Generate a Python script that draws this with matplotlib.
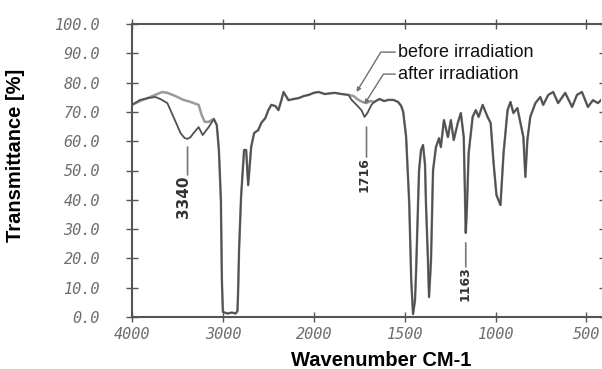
import numpy as np
import matplotlib
matplotlib.use("Agg")
import matplotlib.pyplot as plt

# spectrum: wavenumber (cm-1) and transmittance (%)
before_wn = [4000, 3911, 3800, 3667, 3611, 3522, 3433, 3356, 3267, 3233, 3200, 3156, 3100,
             3067, 3044, 3022, 3011, 3000, 2950, 2900, 2860, 2840, 2833, 2822, 2800, 2767,
             2744, 2722, 2689, 2656, 2611, 2578, 2533, 2500, 2467, 2422, 2389, 2356, 2333,
             2300, 2278, 2222, 2167, 2111, 2056, 2000, 1973, 1940, 1885, 1847, 1809, 1781,
             1754, 1732, 1710, 1689, 1667, 1639, 1612, 1590, 1563, 1536, 1519, 1508, 1492,
             1475, 1464, 1454, 1443, 1437, 1421, 1410, 1399, 1388, 1383, 1372, 1366, 1355,
             1344, 1328, 1311, 1301, 1284, 1262, 1246, 1230, 1208, 1191, 1175, 1169, 1164,
             1158, 1148, 1126, 1109, 1093, 1071, 1044, 1027, 1011, 995, 973, 956, 934, 918,
             902, 880, 863, 847, 836, 825, 809, 781, 754, 738, 710, 683, 656, 617, 579, 552,
             525, 492, 464, 437, 420]
before_t = [72.4, 73.7, 75.1, 76.8, 76.5, 75.4, 74.1, 73.4, 72.4, 68.9, 66.6, 66.6, 67.6,
            65.5, 57.0, 40.0, 12.6, 1.7, 1.2, 1.5, 1.2, 2.0, 8.0, 22.9, 41.0, 57.0,
            57.0, 45.0, 58.0, 62.8, 63.8, 66.2, 67.9, 70.6, 72.4, 72.0, 70.6, 74.0, 76.8,
            75.1, 74.0, 74.4, 74.7, 75.4, 75.8, 76.5, 76.8, 76.1, 76.5, 76.1, 75.8, 75.4,
            74.1, 73.4, 73.0, 73.7, 73.4, 74.4, 73.7, 74.1, 74.1, 73.4, 72.0, 70.0, 61.4,
            39.0, 12.6, 1.0, 5.8, 16.0, 50.0, 57.0, 58.7, 51.9, 39.0, 19.5, 6.8, 19.5,
            50.0, 58.0, 61.0, 58.0, 67.2, 61.4, 67.2, 60.4, 66.2, 69.6, 61.4, 43.3, 28.7,
            36.5, 56.0, 68.3, 70.6, 68.3, 72.4, 68.3, 66.2, 52.6, 41.6, 38.2, 56.0, 70.6, 73.4,
            69.6, 71.3, 66.2, 61.4, 47.8, 60.4, 68.3, 73.0, 75.1, 72.4, 75.8, 76.8, 73.0, 76.5,
            71.7, 75.8, 76.8, 71.7, 74.0, 73.0, 74.0]

# where the irradiated film differs: O-H band and C=O band
after_oh_wn = [4000, 3911, 3822, 3744, 3689, 3611, 3544, 3500, 3467, 3422, 3389, 3356, 3322,
               3267, 3222, 3189, 3156]
after_oh_t = [72.4, 74.1, 74.7, 75.1, 74.4, 73.0, 68.3, 65.2, 62.8, 61.1, 60.8, 61.4, 62.8,
              64.8, 62.1, 63.5, 64.8]
after_co_wn = [1792, 1765, 1738, 1721, 1705, 1683]
after_co_t = [74.1, 72.4, 70.6, 68.3, 69.6, 72.4]

xticks = [4000, 3000, 2000, 1500, 1000, 500]
yticks = [0, 10, 20, 30, 40, 50, 60, 70, 80, 90, 100]

bw = np.array(before_wn)
bt = np.array(before_t)
keep = (bw < 3150) & ((bw > 1800) | (bw < 1675))
after_wn = np.concatenate([after_oh_wn, bw[keep & (bw > 1800)], after_co_wn, bw[keep & (bw < 1675)]])
after_t = np.concatenate([after_oh_t, bt[keep & (bw > 1800)], after_co_t, bt[keep & (bw < 1675)]])


# chart paper: 1000 cm-1 per division above 2000, 500 below
def fwd(w):
    w = np.asarray(w, dtype=float)
    return np.where(w >= 2000, w / 1000.0, w / 500.0 - 2.0)


def inv(u):
    u = np.asarray(u, dtype=float)
    return np.where(u >= 2, u * 1000.0, (u + 2.0) * 500.0)


fig = plt.figure(figsize=(6.02, 3.69), dpi=100)
ax = fig.add_axes([132 / 602, 52 / 369, 469 / 602, 293 / 369])
ax.set_xscale("function", functions=(fwd, inv))

ax.plot(bw, bt, color="#9a9a9a", lw=1.8, solid_joinstyle="round")
ax.plot(after_wn, after_t, color="#505050", lw=1.3, solid_joinstyle="round")

ax.set_xlim(4000, 420)
ax.set_ylim(0, 100)

grey = "#555555"
for side in ["left", "bottom", "top"]:
    ax.spines[side].set_color(grey)
    ax.spines[side].set_linewidth(1.5)
ax.spines["right"].set_visible(False)

ax.set_xticks(xticks)
ax.set_xticklabels([str(v) for v in xticks])
ax.xaxis.set_minor_locator(matplotlib.ticker.NullLocator())
ax.set_yticks(yticks)
ax.set_yticklabels([f"{v:.1f}" for v in yticks])

lab = dict(family="DejaVu Sans Mono", style="oblique", size=11, color="#6e6e6e")
for t in ax.get_xticklabels() + ax.get_yticklabels():
    t.set(**lab)
ax.tick_params(axis="x", direction="inout", length=7, width=1, color=grey, pad=4, top=True)
ax.tick_params(axis="y", direction="inout", length=8, width=1, color=grey, pad=19, right=True)
for t in ax.yaxis.get_major_ticks():
    t.tick2line.set_markersize(3)

ax.set_xlabel("Wavenumber CM-1", family="Liberation Sans", weight="bold", size=14.5)
ax.set_ylabel("Transmittance [%]", family="Liberation Sans", weight="bold", size=14.5)
ax.xaxis.set_label_coords(0.531, -0.115)
ax.yaxis.set_label_coords(-0.228, 0.553)

# legend-like callouts
arr = dict(arrowstyle="-|>", color="#707070", lw=1.0, mutation_scale=6,
           shrinkA=0, shrinkB=0, relpos=(0, 0.5))
ax.annotate("before irradiation", xy=(1765, 76.8), xytext=(1536, 90.4),
            ha="left", va="center", family="Liberation Sans", size=13, color="#111111",
            arrowprops=dict(connectionstyle="angle,angleA=0,angleB=58.6,rad=0", **arr))
ax.annotate("after irradiation", xy=(1721, 72.7), xytext=(1536, 82.9),
            ha="left", va="center", family="Liberation Sans", size=13, color="#111111",
            arrowprops=dict(connectionstyle="angle,angleA=0,angleB=57.7,rad=0", **arr))

# peak labels
peaks = [("3340", 3433, 41.1, 3389, 58.0, 48.5, 11),
         ("1716", 1721, 48.6, 1710, 64.8, 54.6, 9),
         ("1163", 1169, 11.4, 1164, 25.3, 17.1, 9)]
for txt, tx, ty, lx, y0, y1, fs in peaks:
    ax.annotate("", xy=(lx, y0), xytext=(lx, y1),
                arrowprops=dict(arrowstyle="-", color="#777777", lw=1.2, shrinkA=0, shrinkB=0))
    ax.text(tx, ty, txt, rotation=90, ha="center", va="center", size=fs, weight="bold",
            family=["Liberation Sans Narrow", "DejaVu Sans"], color="#333333")

fig.savefig("out.png", dpi=100)
